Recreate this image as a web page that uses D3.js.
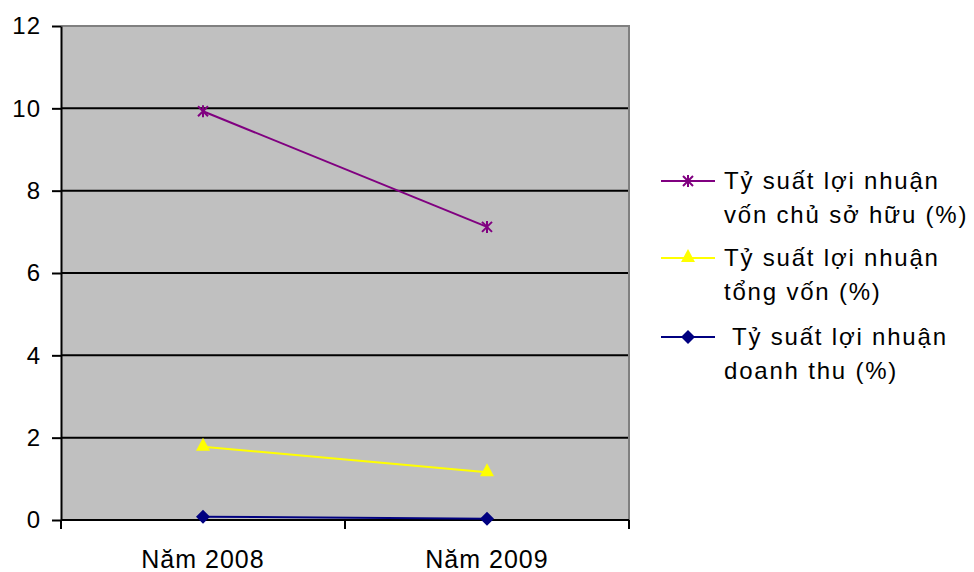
<!DOCTYPE html>
<html>
<head>
<meta charset="utf-8">
<script src="https://cdn.jsdelivr.net/npm/d3@7"></script>
<style>
  body { margin: 0; background: #fff; }
  text { font-family: "Liberation Sans", Arial, sans-serif; }
</style>
</head>
<body>
<div id="chart"></div>
<script>
// data
var categories = ["Năm 2008", "Năm 2009"];
var yTicks = [0, 2, 4, 6, 8, 10, 12];
var roeValues = [9.93, 7.12];      // Tỷ suất lợi nhuận vốn chủ sở hữu (%)
var roaValues = [1.78, 1.16];      // Tỷ suất lợi nhuận tổng vốn (%)
var rosValues = [0.08, 0.03];      // Tỷ suất lợi nhuận doanh thu (%)
var seriesNames = [
    ["Tỷ suất lợi nhuận", "vốn chủ sở hữu (%)"],
    ["Tỷ suất lợi nhuận", "tổng vốn (%)"],
    [" Tỷ suất lợi nhuận", "doanh thu (%)"]
];

var W = 974, H = 572;
var margin = {top: 26, right: 345, bottom: 52, left: 61};
var width = W - margin.left - margin.right;
var height = H - margin.top - margin.bottom;

var svg = d3.select("#chart")
    .append("svg")
    .attr("width", W)
    .attr("height", H);

var g = svg.append("g")
    .attr("transform", "translate(" + margin.left + "," + margin.top + ")");

var x = d3.scaleBand()
    .domain(categories)
    .range([0, width]);

var y = d3.scaleLinear()
    .domain([0, 12])
    .range([height, 0]);

// plot background
g.append("rect")
    .attr("width", width)
    .attr("height", height)
    .attr("fill", "#c0c0c0");

// gridlines
g.selectAll(".grid")
    .data(yTicks.filter(function(d) { return d > 0 && d < 12; }))
    .enter()
    .append("line")
    .attr("x1", 0)
    .attr("x2", width)
    .attr("y1", function(d) { return y(d); })
    .attr("y2", function(d) { return y(d); })
    .attr("stroke", "#000")
    .attr("stroke-width", 2);

// top and right border (gray)
g.append("path")
    .attr("d", "M0," + y(12) + "H" + width + "V" + height)
    .attr("fill", "none")
    .attr("stroke", "#808080")
    .attr("stroke-width", 2);

// y axis
var yAxis = g.append("g")
    .call(d3.axisLeft(y).tickValues(yTicks).tickSize(9).tickPadding(11).tickSizeOuter(0));
yAxis.select(".domain").attr("stroke", "#000").attr("stroke-width", 2);
yAxis.selectAll(".tick line").attr("stroke", "#000").attr("stroke-width", 2);
yAxis.selectAll(".tick text")
    .attr("font-size", 24)
    .attr("letter-spacing", 1)
    .attr("fill", "#000")
    .style("font-family", "Liberation Sans, Arial, sans-serif");

// x axis with ticks between categories
var xAxis = g.append("g")
    .attr("transform", "translate(0," + height + ")");
xAxis.append("line")
    .attr("x1", 0).attr("x2", width)
    .attr("stroke", "#000").attr("stroke-width", 2);
var xBounds = [0].concat(categories.map(function(c) { return x(c) + x.bandwidth(); }));
xAxis.selectAll(".xtick")
    .data(xBounds)
    .enter()
    .append("line")
    .attr("x1", function(d) { return d; })
    .attr("x2", function(d) { return d; })
    .attr("y1", 0)
    .attr("y2", 9)
    .attr("stroke", "#000")
    .attr("stroke-width", 2);
xAxis.selectAll(".xlabel")
    .data(categories)
    .enter()
    .append("text")
    .attr("x", function(d) { return x(d) + x.bandwidth() / 2; })
    .attr("y", 48)
    .attr("text-anchor", "middle")
    .attr("font-size", 25)
    .attr("letter-spacing", 1)
    .attr("fill", "#000")
    .text(function(d) { return d; });

var cx = function(i) { return x(categories[i]) + x.bandwidth() / 2; };

var series = [
    {values: roeValues, color: "#800080", marker: "star"},
    {values: roaValues, color: "#ffff00", marker: "triangle"},
    {values: rosValues, color: "#000080", marker: "diamond"}
];

var line = d3.line()
    .x(function(d, i) { return cx(i); })
    .y(function(d) { return y(d); });

function drawMarker(sel, type, color) {
    if (type === "star") {
        var s = 5;
        sel.append("path")
            .attr("d", "M" + (-s) + "," + (-s) + "L" + s + "," + s +
                       "M" + (-s) + "," + s + "L" + s + "," + (-s) +
                       "M0," + (-s - 1) + "L0," + (s + 1))
            .attr("stroke", color)
            .attr("stroke-width", 2)
            .attr("fill", "none");
    } else if (type === "triangle") {
        sel.append("path")
            .attr("d", "M0,-9L7,4L-7,4Z")
            .attr("fill", color);
    } else {
        sel.append("path")
            .attr("d", "M0,-7L7,0L0,7L-7,0Z")
            .attr("fill", color);
    }
}

series.forEach(function(s) {
    g.append("path")
        .datum(s.values)
        .attr("d", line)
        .attr("fill", "none")
        .attr("stroke", s.color)
        .attr("stroke-width", 2);
    s.values.forEach(function(v, i) {
        var m = g.append("g")
            .attr("transform", "translate(" + cx(i) + "," + y(v) + ")");
        drawMarker(m, s.marker, s.color);
    });
});

// legend
var legend = svg.append("g").attr("transform", "translate(661,0)");
var rowY = [181, 258, 337];
series.forEach(function(s, i) {
    var row = legend.append("g").attr("transform", "translate(0," + rowY[i] + ")");
    row.append("line")
        .attr("x1", 0).attr("x2", 54)
        .attr("stroke", s.color)
        .attr("stroke-width", 2);
    var m = row.append("g").attr("transform", "translate(27,0)");
    drawMarker(m, s.marker, s.color);
    var t = row.append("text")
        .attr("x", 63)
        .attr("y", 8)
        .attr("font-size", 24)
        .attr("letter-spacing", 1.8)
        .attr("fill", "#000")
        .style("white-space", "pre");
    t.append("tspan").attr("x", 63).attr("dy", 0).text(seriesNames[i][0]);
    t.append("tspan").attr("x", 63).attr("dy", 34).text(seriesNames[i][1]);
});
</script>
</body>
</html>
